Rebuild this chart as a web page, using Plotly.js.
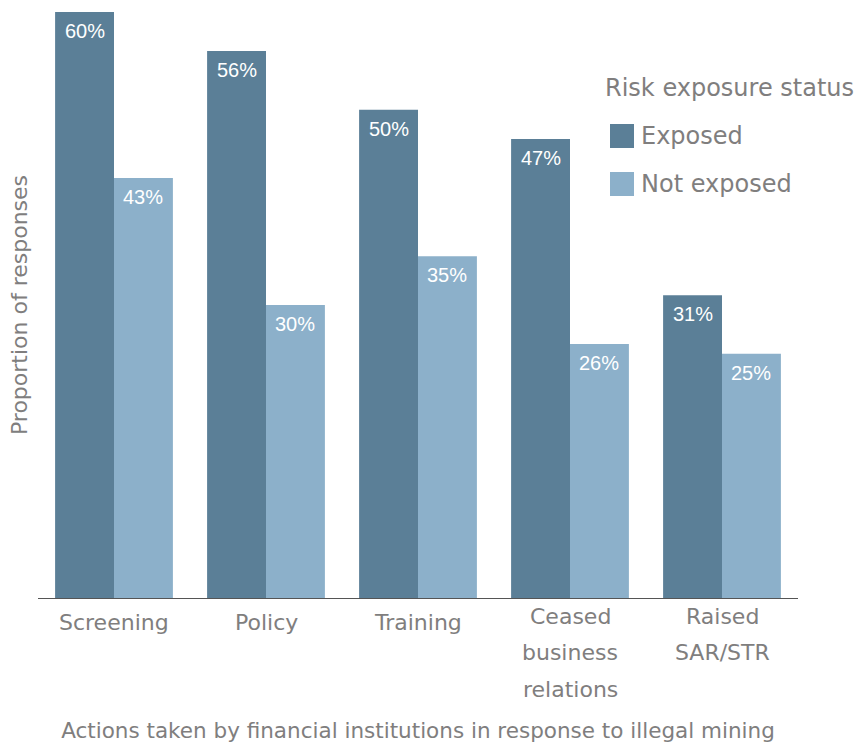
<!DOCTYPE html>
<html>
<head>
<meta charset="utf-8">
<script src="https://cdn.plot.ly/plotly-3.0.1.min.js"></script>
<style>html,body{margin:0;padding:0;background:#fff;}</style>
</head>
<body>
<div id="chart" style="width:856px;height:747px;"></div>
<script>
const categories = ["Screening", "Policy", "Training", "Ceased<br>business<br>relations", "Raised<br>SAR/STR"];
const exposed = [60, 56, 50, 47, 31];
const notExposed = [43, 30, 35, 26, 25];
const seriesNames = ["Exposed", "Not exposed"];
const legendTitle = "Risk exposure status";
const xTitle = "Actions taken by financial institutions in response to illegal mining";
const yTitle = "Proportion of responses";

const colors = ["#5b7f97", "#8cb0ca"];
const labelFont = "DejaVu Sans, sans-serif";
const valueFont = "Liberation Sans, Arial, sans-serif";
const grey = "#807e7e";

// plot geometry (layout only)
const W = 856, H = 747;
const M = {l: 38, r: 58, t: 12, b: 149};
const plotW = W - M.l - M.r, plotH = H - M.t - M.b;
const bargap = 0.225;
const px2x = p => (p - M.l) / plotW;
const px2y = p => (H - M.b - p) / plotH;

const seriesVals = [exposed, notExposed];
const traces = seriesVals.map((vals, i) => ({
  type: "bar",
  x: categories,
  y: vals,
  name: seriesNames[i],
  showlegend: false,
  marker: {color: colors[i]},
  hoverinfo: "skip"
}));

const annotations = [];
const shapes = [];

// value labels inside top of bars
const barW = (plotW / categories.length) * (1 - bargap) / 2;
seriesVals.forEach((vals, i) => {
  vals.forEach((v, k) => {
    annotations.push({
      x: categories[k], y: v, xref: "x", yref: "y",
      text: v + "%", showarrow: false,
      xanchor: "center", yanchor: "top",
      xshift: (i === 0 ? -1 : 1) * barW / 2,
      yshift: -6,
      font: {family: valueFont, size: 20, color: "#ffffff"}
    });
  });
});

// category labels (wider line spacing)
categories.forEach(c => {
  const lines = c.split("<br>");
  const start = lines.length > 1 ? 18 : 24;
  lines.forEach((ln, j) => {
    annotations.push({
      x: c, y: 0, xref: "x", yref: "y",
      text: ln, showarrow: false,
      yanchor: "middle", xanchor: "center",
      yshift: -(start + j * 36.5),
      font: {family: labelFont, size: 22, color: grey}
    });
  });
});

// legend
annotations.push({
  x: px2x(603), y: px2y(88), xref: "paper", yref: "paper",
  text: legendTitle, showarrow: false, xanchor: "left", yanchor: "middle",
  font: {family: labelFont, size: 24, color: grey}
});
seriesNames.forEach((n, i) => {
  const cy = 136 + i * 48;
  shapes.push({
    type: "rect", xref: "paper", yref: "paper",
    x0: px2x(610), x1: px2x(634), y0: px2y(cy - 12), y1: px2y(cy + 12),
    fillcolor: colors[i], line: {width: 0}
  });
  annotations.push({
    x: px2x(639), y: px2y(cy), xref: "paper", yref: "paper",
    text: n, showarrow: false, xanchor: "left", yanchor: "middle",
    font: {family: labelFont, size: 24, color: grey}
  });
});

const layout = {
  width: W, height: H,
  margin: M,
  paper_bgcolor: "#ffffff",
  plot_bgcolor: "#ffffff",
  barmode: "group",
  bargap: bargap,
  bargroupgap: 0,
  font: {family: labelFont, color: grey},
  showlegend: false,
  xaxis: {
    type: "category",
    categoryarray: categories,
    showticklabels: false,
    showline: true, linecolor: "#555555", linewidth: 1.3,
    showgrid: false, zeroline: false, ticks: "",
    range: [-0.5, 4.5],
    title: {text: xTitle, font: {family: labelFont, size: 21.5, color: grey}, standoff: 124},
    automargin: false
  },
  yaxis: {
    range: [0, 60],
    showticklabels: false, showgrid: false, zeroline: false, showline: false, ticks: "",
    title: {text: yTitle, font: {family: labelFont, size: 22, color: grey}, standoff: 3},
    automargin: false
  },
  annotations: annotations,
  shapes: shapes
};

Plotly.newPlot("chart", traces, layout, {displayModeBar: false, staticPlot: true});
</script>
</body>
</html>
